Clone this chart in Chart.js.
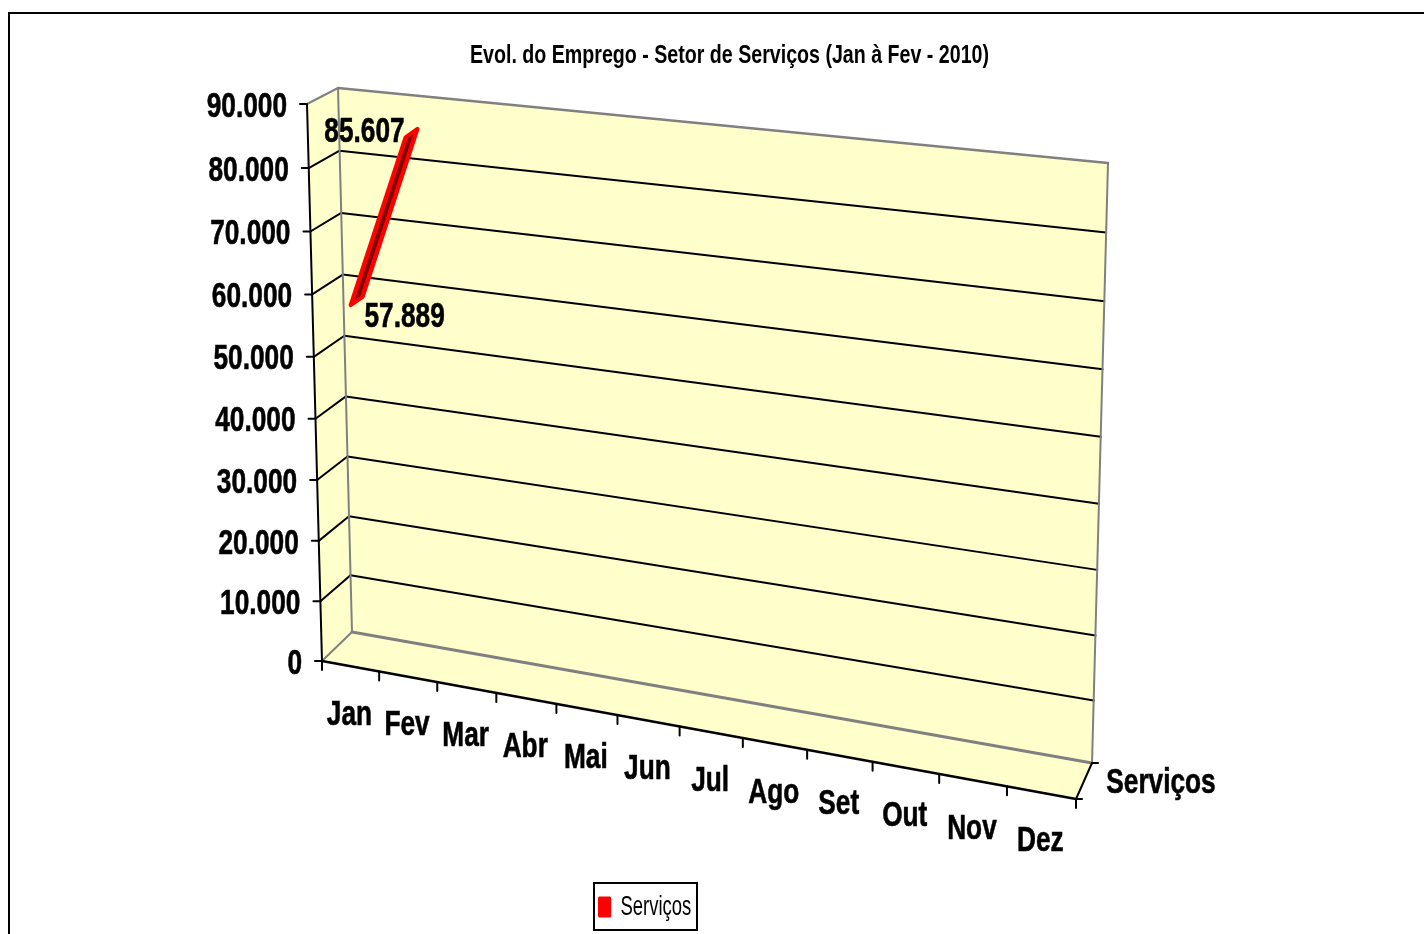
<!DOCTYPE html>
<html>
<head>
<meta charset="utf-8">
<title>Evol. do Emprego</title>
<style>
  html, body { margin: 0; padding: 0; background: #fff; overflow: hidden; }
  canvas { display: block; }
</style>
<script src="https://cdn.jsdelivr.net/npm/chart.js@4/dist/chart.umd.min.js"></script>
</head>
<body>
<canvas id="chart" width="1424" height="934"></canvas>
<script>
// Dados
const categories = ['Jan', 'Fev', 'Mar', 'Abr', 'Mai', 'Jun', 'Jul', 'Ago', 'Set', 'Out', 'Nov', 'Dez'];
const servicos = [57889, 85607, null, null, null, null, null, null, null, null, null, null];
const seriesName = 'Serviços';
const chartTitle = 'Evol. do Emprego - Setor de Serviços (Jan à Fev - 2010)';
const yMax = 90000;
const yStep = 10000;

// Geometria da caixa 3D (cantos na tela: sup-esq, inf-esq, inf-dir, sup-dir)
const BACK_QUAD = [[338, 88], [352, 634], [1092, 765], [1108, 163]];
const FRONT_QUAD = [[307, 104], [322, 661], [1076, 799], [1092, 185]];
const MID_QUAD = [[322.5, 96], [337, 646.5], [1084, 781], [1100, 174]];
const FLOOR_LIFT = 2;

const FONT = '"Liberation Sans", Arial, sans-serif';
const WALL = '#FFFFCC';
const EDGE = '#808080';
const LABEL_OFFSETS = [[48, 16], [-47, -1]];
const TEXT_SQUEEZE = 0.75;
const LEGEND_BOX = { left: 594, top: 883, width: 103, height: 47 };
const LEGEND_X = 598;
const LEGEND_SQUEEZE = 0.66;

function fmt(v) {
  return String(v).replace(/\B(?=(\d{3})+$)/g, '.');
}

// homografia: quadrado unitário -> quadrilátero
function makeMap(q) {
  const [x0, y0] = q[0], [x3, y3] = q[1], [x2, y2] = q[2], [x1, y1] = q[3];
  const dx1 = x1 - x2, dx2 = x3 - x2, sx = x0 - x1 + x2 - x3;
  const dy1 = y1 - y2, dy2 = y3 - y2, sy = y0 - y1 + y2 - y3;
  const d = dx1 * dy2 - dx2 * dy1;
  const g = (sx * dy2 - dx2 * sy) / d;
  const h = (dx1 * sy - sx * dy1) / d;
  const a = x1 - x0 + g * x1, b = x3 - x0 + h * x3;
  const e = y1 - y0 + g * y1, f = y3 - y0 + h * y3;
  return (u, v) => {
    const w = g * u + h * v + 1;
    return [(a * u + b * v + x0) / w, (e * u + f * v + y0) / w];
  };
}
const toBack = makeMap(BACK_QUAD), toFront = makeMap(FRONT_QUAD), toMid = makeMap(MID_QUAD);

function project(chart, map, px, py) {
  const a = chart.chartArea;
  return map((px - a.left) / (a.right - a.left), (py - a.top) / (a.bottom - a.top));
}

function poly(ctx, pts) {
  ctx.beginPath();
  pts.forEach((p, i) => i ? ctx.lineTo(p[0], p[1]) : ctx.moveTo(p[0], p[1]));
  ctx.closePath();
}
function seg(ctx, a, b, color, width) {
  ctx.strokeStyle = color;
  ctx.lineWidth = width;
  ctx.beginPath();
  ctx.moveTo(a[0], a[1]);
  ctx.lineTo(b[0], b[1]);
  ctx.stroke();
}
function label(ctx, text, x, y, align) {
  ctx.font = 'bold 35px ' + FONT;
  ctx.fillStyle = '#000';
  ctx.strokeStyle = '#000';
  ctx.lineWidth = 0.6;
  ctx.textAlign = align || 'center';
  ctx.textBaseline = 'middle';
  const w = ctx.measureText(text).width * TEXT_SQUEEZE;
  ctx.fillText(text, x, y, w);
  ctx.strokeText(text, x, y, w);
}

const RIBBON = [6, -4.2];
function ribbonPolys(chart) {
  const pts = chart.getDatasetMeta(0).data.filter(p => !p.skip);
  const out = [];
  for (let i = 0; i < pts.length - 1; i++) {
    const p = pts[i], q = pts[i + 1];
    out.push([
      [p.x - RIBBON[0], p.y - RIBBON[1]], [q.x - RIBBON[0], q.y - RIBBON[1]],
      [q.x + RIBBON[0], q.y + RIBBON[1]], [p.x + RIBBON[0], p.y + RIBBON[1]]
    ]);
  }
  return out;
}

const box3d = {
  id: 'box3d',
  afterLayout(chart) {
    // título e legenda nos lugares do original
    const t = chart.titleBlock;
    t.left = 470; t.right = 989;
    t.top = 41; t.bottom = 71;
    const l = chart.legend;
    const pad = l.options.labels.padding;
    l.left = LEGEND_X - pad; l.right = LEGEND_X + 200;
    l.top = LEGEND_BOX.top; l.bottom = LEGEND_BOX.top + LEGEND_BOX.height;
    if (!l._squeezed) {
      // encolhe só na horizontal, como no original
      const origDraw = l.draw;
      l.draw = function (area) {
        const ctx = chart.ctx;
        ctx.save();
        ctx.translate(LEGEND_X, 0);
        ctx.scale(LEGEND_SQUEEZE, 1);
        ctx.translate(-LEGEND_X, 0);
        origDraw.call(this, area);
        ctx.restore();
      };
      l._squeezed = true;
    }
  },
  afterDatasetsUpdate(chart) {
    const x = chart.scales.x, y = chart.scales.y;
    chart.getDatasetMeta(0).data.forEach((pt, i) => {
      if (pt.skip) return;
      const p = project(chart, toMid, x.getPixelForValue(i), y.getPixelForValue(servicos[i]));
      pt.x = p[0];
      pt.y = p[1];
    });
  },
  beforeDraw(chart) {
    const ctx = chart.ctx;
    ctx.save();
    ctx.fillStyle = '#fff';
    ctx.fillRect(0, 0, chart.width, chart.height);
    ctx.strokeStyle = '#000';
    ctx.lineWidth = 2;
    ctx.strokeRect(9, 13, chart.width + 50, chart.height + 50);
    ctx.restore();
  },
  beforeDatasetsDraw(chart) {
    const ctx = chart.ctx, x = chart.scales.x, y = chart.scales.y;
    const xL = chart.chartArea.left, xR = chart.chartArea.right;
    const yT = chart.chartArea.top, yB = chart.chartArea.bottom;
    const fTL = project(chart, toFront, xL, yT), fBL = project(chart, toFront, xL, yB);
    const fBR = project(chart, toFront, xR, yB);
    const bTL = project(chart, toBack, xL, yT), bTR = project(chart, toBack, xR, yT);
    let bBL = project(chart, toBack, xL, yB), bBR = project(chart, toBack, xR, yB);
    bBL = [bBL[0], bBL[1] - FLOOR_LIFT];
    bBR = [bBR[0], bBR[1] - FLOOR_LIFT];
    ctx.save();
    ctx.lineCap = 'round';

    // paredes e piso
    ctx.fillStyle = WALL;
    poly(ctx, [bTL, bBL, bBR, bTR]); ctx.fill();
    poly(ctx, [fTL, fBL, bBL, bTL]); ctx.fill();
    poly(ctx, [fBL, fBR, bBR, bBL]); ctx.fill();

    // grades horizontais a partir dos ticks da escala
    y.ticks.forEach(t => {
      const py = y.getPixelForValue(t.value);
      const f = project(chart, toFront, xL, py);
      const b = project(chart, toBack, xL, py);
      const r = project(chart, toBack, xR, py);
      if (t.value > 0 && t.value < yMax) {
        seg(ctx, f, b, '#000', 2);
        seg(ctx, b, r, '#000', 2);
      }
      seg(ctx, [f[0] - 7, f[1]], f, '#000', 2);
      label(ctx, fmt(t.value), f[0] - 20, f[1] + 3, 'right');
    });

    // arestas cinza
    seg(ctx, fTL, bTL, EDGE, 2);
    seg(ctx, bTL, bTR, EDGE, 2.5);
    seg(ctx, bTL, bBL, EDGE, 2);
    seg(ctx, bTR, bBR, EDGE, 2);
    seg(ctx, fBL, bBL, EDGE, 2);
    seg(ctx, bBL, bBR, EDGE, 3);

    // eixos pretos
    seg(ctx, fTL, fBL, '#000', 2);
    seg(ctx, fBL, fBR, '#000', 2.5);
    seg(ctx, fBR, bBR, '#000', 2);
    seg(ctx, bBR, [bBR[0] + 6, bBR[1]], '#000', 2);
    seg(ctx, fBR, [fBR[0] + 6, fBR[1]], '#000', 2);

    // ticks e rótulos de categoria
    categories.forEach((c, i) => {
      const e = project(chart, toFront, x.getPixelForValue(i - 0.5), yB);
      seg(ctx, e, [e[0], e[1] + 9], '#000', 2);
      const m = project(chart, toFront, x.getPixelForValue(i), yB);
      label(ctx, c, m[0] - 1, m[1] + 49);
    });
    const last = project(chart, toFront, xR, yB);
    seg(ctx, last, [last[0], last[1] + 9], '#000', 2);

    // nome da série no eixo de profundidade
    label(ctx, seriesName, 1161, 783);

    // fita vermelha
    ctx.fillStyle = '#FF0000';
    ribbonPolys(chart).forEach(q => { poly(ctx, q); ctx.fill(); });
    ctx.restore();
  },
  afterDatasetsDraw(chart) {
    const ctx = chart.ctx;
    ctx.save();
    ctx.strokeStyle = '#FF0000';
    ctx.lineWidth = 4;
    ctx.lineJoin = 'round';
    ribbonPolys(chart).forEach(q => { poly(ctx, q); ctx.stroke(); });
    chart.getDatasetMeta(0).data.forEach((pt, i) => {
      if (pt.skip) return;
      label(ctx, fmt(servicos[i]), pt.x + LABEL_OFFSETS[i][0], pt.y + LABEL_OFFSETS[i][1]);
    });
    ctx.restore();
  },
  afterDraw(chart) {
    const ctx = chart.ctx;
    ctx.save();
    ctx.strokeStyle = '#000';
    ctx.lineWidth = 2;
    ctx.strokeRect(LEGEND_BOX.left, LEGEND_BOX.top, LEGEND_BOX.width, LEGEND_BOX.height);
    ctx.restore();
  }
};

new Chart(document.getElementById('chart'), {
  type: 'line',
  data: {
    labels: categories,
    datasets: [{
      label: seriesName,
      data: servicos,
      borderColor: '#800000',
      backgroundColor: '#FF0000',
      borderWidth: 4,
      borderCapStyle: 'butt',
      pointRadius: 0,
      tension: 0,
      clip: false
    }]
  },
  options: {
    responsive: false,
    animation: false,
    layout: { padding: { left: 300, right: 300, top: 20, bottom: 20 } },
    scales: {
      x: { display: false, type: 'category', offset: true },
      y: {
        display: false,
        min: 0,
        max: yMax,
        ticks: { stepSize: yStep }
      }
    },
    plugins: {
      title: {
        display: true,
        text: chartTitle,
        color: '#000',
        padding: 0,
        font: { family: FONT, size: 25, weight: 'bold', lineHeight: 1.2 }
      },
      legend: {
        display: true,
        position: 'bottom',
        align: 'start',
        labels: {
          color: '#000',
          boxWidth: 20,
          boxHeight: 21,
          padding: 10,
          font: { family: FONT, size: 28 },
          generateLabels: () => [{
            text: seriesName,
            fillStyle: '#FF0000',
            strokeStyle: '#FF0000',
            lineWidth: 0,
            borderRadius: 2,
            datasetIndex: 0
          }]
        }
      },
      tooltip: { enabled: false }
    }
  },
  plugins: [box3d]
});
</script>
</body>
</html>
